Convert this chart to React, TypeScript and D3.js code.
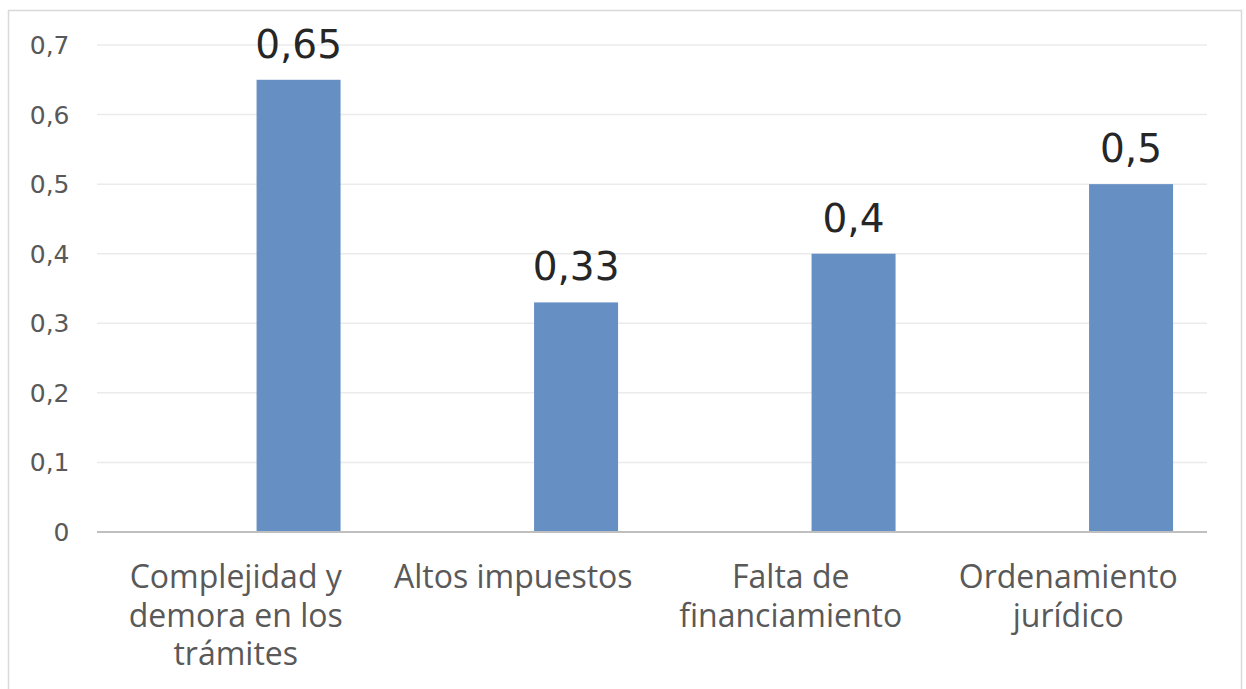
import React from "react";
import * as d3 from "d3";

const categories = [
  "Complejidad y demora en los trámites",
  "Altos impuestos",
  "Falta de financiamiento",
  "Ordenamiento jurídico",
];
const categoryLines = [
  ["Complejidad y", "demora en los", "trámites"],
  ["Altos impuestos"],
  ["Falta de", "financiamiento"],
  ["Ordenamiento", "jurídico"],
];
const values = [0.65, 0.33, 0.4, 0.5];
const valueLabels = ["0,65", "0,33", "0,4", "0,5"];
const yTicks = [0, 0.1, 0.2, 0.3, 0.4, 0.5, 0.6, 0.7];

const W = 1246;
const H = 689;
const plot = { left: 97, right: 1207, top: 45, bottom: 532 };

const locale = d3.formatLocale({
  decimal: ",",
  thousands: ".",
  grouping: [3],
  currency: ["", "€"],
});
const fmt = (v: number) => (v === 0 ? "0" : locale.format(".1f")(v));

export default function App() {
  const x = d3
    .scaleBand<string>()
    .domain(categories)
    .range([plot.left, plot.right])
    .paddingInner(0)
    .paddingOuter(0);
  const y = d3.scaleLinear().domain([0, 0.7]).range([plot.bottom, plot.top]);
  const bw = x.bandwidth();
  const barW = bw * 0.3027;
  const barOffset = bw * 0.575;

  return (
    <svg
      width={W}
      height={H}
      style={{ position: "absolute", left: 0, top: 0, background: "#fff" }}
      fontFamily="'Open Sans', Roboto, sans-serif"
    >
      <rect x={8.5} y={10.5} width={1233} height={720} fill="#fff" stroke="#d9d9d9" strokeWidth={1.5} />
      {yTicks.map((t) => (
        <g key={t}>
          {t > 0 && (
            <line x1={plot.left} x2={plot.right} y1={y(t)} y2={y(t)} stroke="#ebebeb" strokeWidth={1.5} />
          )}
          <text
            x={69.5}
            y={y(t)}
            dy="0.36em"
            textAnchor="end"
            fontSize={25}
            fontFamily="'DejaVu Sans', sans-serif"
            fill="#595959"
          >
            {fmt(t)}
          </text>
        </g>
      ))}
      {categories.map((c, i) => {
        const bx = (x(c) as number) + barOffset;
        return (
          <g key={c}>
            <rect x={bx} y={y(values[i])} width={barW} height={y(0) - y(values[i])} fill="#6690c4" />
            <text
              x={bx + barW / 2}
              y={y(values[i]) - 22}
              textAnchor="middle"
              fontSize={39}
              fontFamily="'DejaVu Sans', sans-serif"
              fill="#262626"
            >
              {valueLabels[i]}
            </text>
          </g>
        );
      })}
      <line x1={plot.left} x2={plot.right} y1={plot.bottom} y2={plot.bottom} stroke="#bfbfbf" strokeWidth={2} />
      {categories.map((c, i) => (
        <text
          key={c}
          x={(x(c) as number) + bw / 2}
          textAnchor="middle"
          fontSize={32}
          fill="#595959"
        >
          {categoryLines[i].map((ln, j) => (
            <tspan key={j} x={(x(c) as number) + bw / 2} y={588 + j * 38.5}>
              {ln}
            </tspan>
          ))}
        </text>
      ))}
    </svg>
  );
}
